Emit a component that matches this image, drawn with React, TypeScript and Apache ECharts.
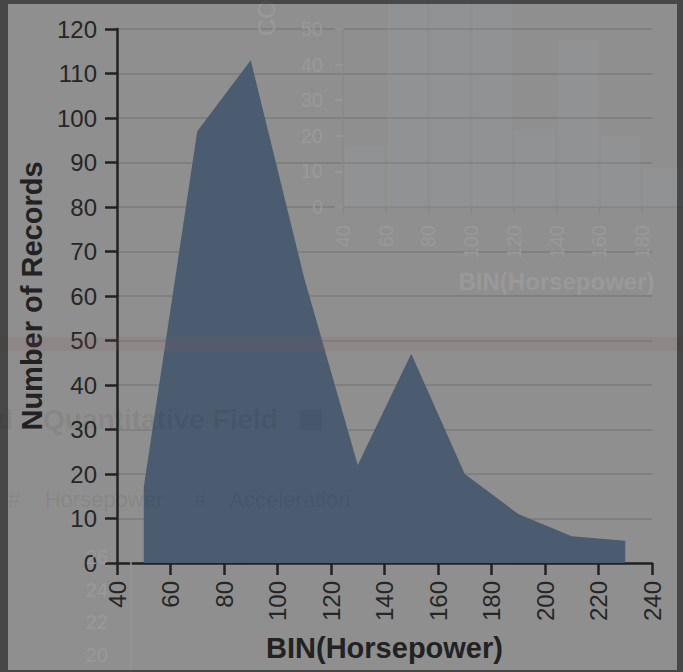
import React, { useEffect, useRef } from "react";
import * as echarts from "echarts";

// Horsepower bin centres (bins of 20) and counts
const binCenters = [50, 70, 90, 110, 130, 150, 170, 190, 210, 230];
const records = [17, 97, 113, 64, 22, 47, 20, 11, 6, 5];
// faint background chart (same histogram, as bars)
const ghostBins = [50, 70, 90, 110, 130, 150, 170, 190, 210, 230];
const ghostCounts = [17, 97, 113, 64, 22, 47, 20, 11, 6, 5];
const ghostLeftLabels = ["26", "24", "22", "20"];

const FONT = "'Liberation Sans', Arial, Helvetica, sans-serif";

export default function App() {
  const ref = useRef<HTMLDivElement>(null);

  useEffect(() => {
    if (!ref.current) return;
    const chart = echarts.init(ref.current, undefined, { renderer: "svg" });

    const ghostLabelGraphics = ghostLeftLabels.map((t, i) => ({
      type: "text",
      z: 1,
      x: 108,
      y: 557 + i * 32.7,
      style: {
        text: t,
        font: `20px ${FONT}`,
        fill: "#999999",
        textAlign: "right",
        textVerticalAlign: "middle",
      },
    }));

    chart.setOption({
      animation: false,
      backgroundColor: "#8f8f8f",
      textStyle: { fontFamily: FONT },
      grid: [
        {
          left: 117,
          top: 29,
          width: 535,
          height: 534,
          outerBoundsMode: "none",
          containLabel: false,
        },
        {
          left: 343,
          top: 29,
          width: 427,
          height: 178,
          outerBoundsMode: "none",
          containLabel: false,
        },
      ],
      xAxis: [
        {
          type: "value",
          gridIndex: 0,
          min: 40,
          max: 240,
          interval: 20,
          name: "BIN(Horsepower)",
          nameLocation: "middle",
          nameGap: 70,
          nameTextStyle: {
            fontSize: 29,
            fontWeight: "bold",
            color: "#222222",
            fontFamily: FONT,
          },
          axisLine: { show: true, onZero: false, lineStyle: { color: "#222222", width: 2.5 } },
          axisTick: { show: true, length: 12, lineStyle: { color: "#222222", width: 2.5 } },
          axisLabel: {
            rotate: 90,
            margin: 18,
            fontSize: 24,
            color: "#262626",
            fontFamily: FONT,
          },
          splitLine: { show: false },
        },
        {
          type: "value",
          gridIndex: 1,
          min: 40,
          max: 240,
          interval: 20,
          name: "BIN(Horsepower)",
          nameLocation: "middle",
          nameGap: 62,
          nameTextStyle: {
            fontSize: 24,
            fontWeight: "bold",
            color: "#999999",
            fontFamily: FONT,
          },
          axisLine: { show: true, onZero: false, lineStyle: { color: "#868686", width: 2 } },
          axisTick: { show: true, length: 8, lineStyle: { color: "#888888", width: 1.5 } },
          axisLabel: {
            rotate: 90,
            margin: 18,
            fontSize: 20,
            color: "#999999",
            fontFamily: FONT,
            formatter: (v: number) => (v <= 180 ? String(v) : ""),
          },
          splitLine: { show: false },
        },
      ],
      yAxis: [
        {
          type: "value",
          gridIndex: 0,
          min: 0,
          max: 120,
          interval: 10,
          name: "Number of Records",
          nameLocation: "middle",
          nameGap: 68,
          nameTextStyle: {
            fontSize: 29,
            fontWeight: "bold",
            color: "#222222",
            fontFamily: FONT,
          },
          axisLine: { show: true, lineStyle: { color: "#222222", width: 2.5 } },
          axisTick: { show: true, length: 12, lineStyle: { color: "#222222", width: 2.5 } },
          axisLabel: {
            margin: 20,
            fontSize: 24,
            color: "#262626",
            fontFamily: FONT,
          },
          splitLine: { show: true, lineStyle: { color: "#7b7b7b", width: 1.5 } },
        },
        {
          type: "value",
          gridIndex: 1,
          min: 0,
          max: 50,
          interval: 10,
          axisLine: { show: true, lineStyle: { color: "#888888", width: 1.5 } },
          axisTick: { show: true, length: 8, lineStyle: { color: "#999999", width: 1.5 } },
          axisLabel: {
            margin: 20,
            fontSize: 20,
            color: "#999999",
            fontFamily: FONT,
          },
          splitLine: { show: false },
        },
      ],
      series: [
        {
          type: "bar",
          xAxisIndex: 1,
          yAxisIndex: 1,
          clip: false,
          barWidth: 40,
          z: 1,
          itemStyle: { color: "rgba(150,160,172,0.16)" },
          data: ghostBins.map((x, i) => [x, ghostCounts[i]]),
        },
        {
          type: "line",
          xAxisIndex: 0,
          yAxisIndex: 0,
          symbol: "none",
          z: 3,
          lineStyle: { width: 0, color: "#4b5c71" },
          areaStyle: { color: "#4b5c71", opacity: 1 },
          data: binCenters.map((x, i) => [x, records[i]]),
        },
      ],
      graphic: [
        ...ghostLabelGraphics,
        {
          type: "line",
          z: 1,
          shape: { x1: 131, y1: 562, x2: 131, y2: 672 },
          style: { stroke: "#959595", lineWidth: 1.5 },
        },
        {
          type: "text",
          z: 1,
          x: 266,
          y: 36,
          rotation: Math.PI / 2,
          style: {
            text: "COUNT",
            font: `24px ${FONT}`,
            fill: "#9a9a9a",
            textAlign: "left",
            textVerticalAlign: "middle",
          },
        },
        // faint overlay texts
        {
          type: "text",
          z: 50,
          x: -4,
          y: 419,
          style: {
            text: "d",
            font: `bold 28px ${FONT}`,
            fill: "rgba(0,0,0,0.07)",
            textVerticalAlign: "middle",
          },
        },
        {
          type: "text",
          z: 50,
          x: 43,
          y: 419,
          style: {
            text: "Quantitative Field",
            font: `bold 28px ${FONT}`,
            fill: "rgba(0,0,0,0.07)",
            textVerticalAlign: "middle",
          },
        },
        {
          type: "rect",
          z: 50,
          shape: { x: 300, y: 410, width: 22, height: 20 },
          style: { fill: "rgba(0,0,0,0.05)" },
        },
        {
          type: "text",
          z: 50,
          x: 8,
          y: 499,
          style: {
            text: "#    Horsepower     #    Acceleration",
            font: `22px ${FONT}`,
            fill: "rgba(0,0,0,0.07)",
            textVerticalAlign: "middle",
          },
        },
        // pink band
        {
          type: "rect",
          z: 60,
          shape: { x: 0, y: 337, width: 683, height: 14 },
          style: { fill: "rgba(150,95,95,0.14)" },
        },
        // dark frame
        {
          type: "rect",
          z: 100,
          shape: { x: 0, y: 0, width: 8, height: 672 },
          style: { fill: "rgba(0,0,0,0.5)" },
        },
        {
          type: "rect",
          z: 100,
          shape: { x: 8, y: 0, width: 669, height: 4 },
          style: { fill: "rgba(0,0,0,0.5)" },
        },
        {
          type: "rect",
          z: 100,
          shape: { x: 677, y: 0, width: 6, height: 672 },
          style: { fill: "rgba(0,0,0,0.5)" },
        },
        {
          type: "rect",
          z: 100,
          shape: { x: 8, y: 670, width: 669, height: 2 },
          style: { fill: "rgba(0,0,0,0.5)" },
        },
      ],
    });

    return () => chart.dispose();
  }, []);

  return (
    <div
      ref={ref}
      style={{ position: "fixed", left: 0, top: 0, width: 683, height: 672 }}
    />
  );
}
